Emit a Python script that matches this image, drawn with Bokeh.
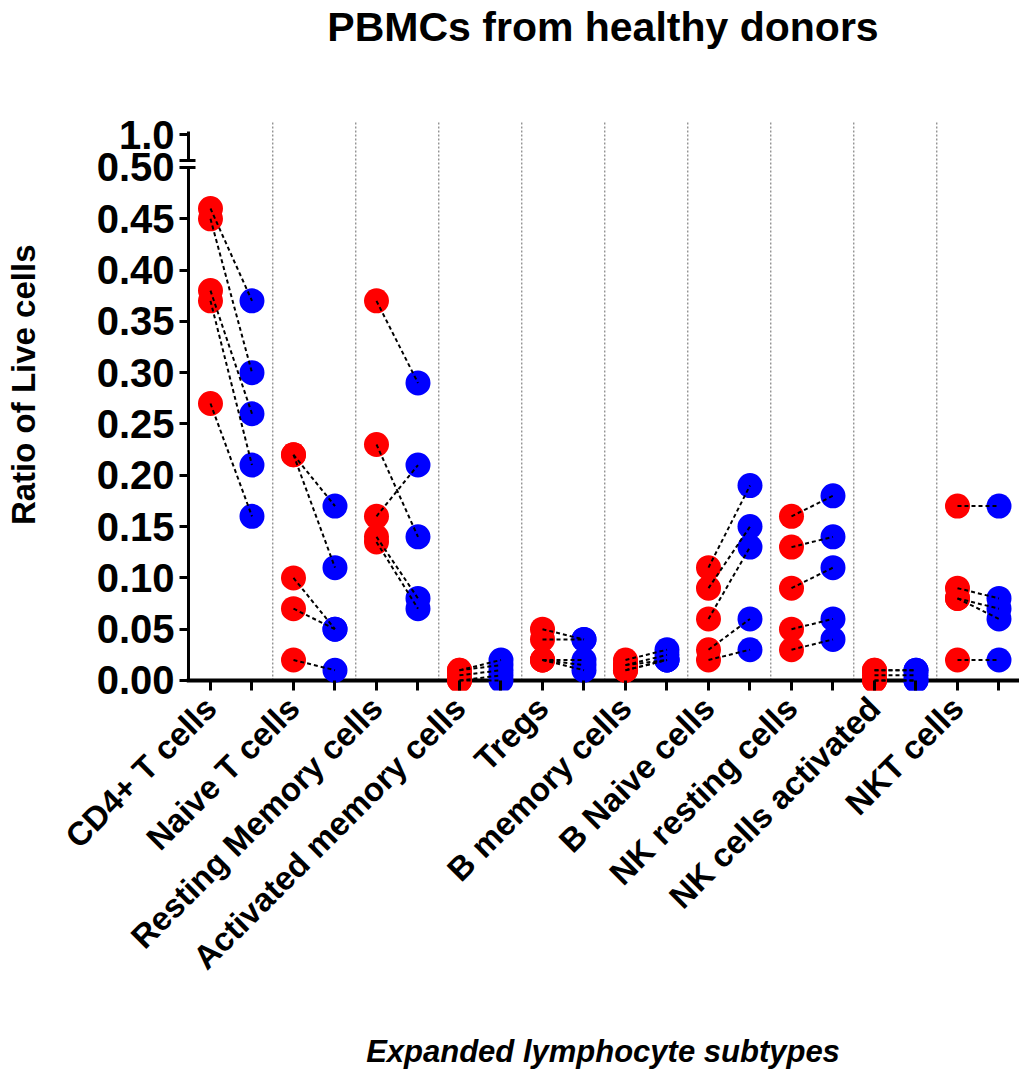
import math
from bokeh.plotting import figure
from bokeh.models import FixedTicker, CustomJSTickFormatter, Range1d, LinearAxis, Title
from bokeh.embed import file_html
from bokeh.resources import INLINE

# ---------------- data ----------------
categories = ["CD4+ T cells", "Naive T cells", "Resting Memory cells",
              "Activated memory cells", "Tregs", "B memory cells",
              "B Naive cells", "NK resting cells", "NK cells activated",
              "NKT cells"]

# ratio of live cells, one value per donor (red = first condition)
red_values = [
    [0.46, 0.45, 0.38, 0.37, 0.27],
    [0.22, 0.22, 0.10, 0.07, 0.02],
    [0.37, 0.23, 0.16, 0.14, 0.135],
    [0.01, 0.005, 0.0, 0.0, 0.01],
    [0.05, 0.04, 0.02, 0.02, 0.02],
    [0.02, 0.015, 0.01, 0.01, 0.015],
    [0.11, 0.09, 0.06, 0.03, 0.02],
    [0.16, 0.13, 0.09, 0.05, 0.03],
    [0.01, 0.01, 0.0, 0.0, 0.005],
    [0.17, 0.09, 0.08, 0.08, 0.02],
]
# paired values (blue = second condition), same donor order
blue_values = [
    [0.37, 0.30, 0.26, 0.21, 0.16],
    [0.17, 0.11, 0.05, 0.05, 0.01],
    [0.29, 0.14, 0.21, 0.08, 0.07],
    [0.02, 0.01, 0.005, 0.0, 0.015],
    [0.04, 0.04, 0.02, 0.01, 0.015],
    [0.03, 0.025, 0.02, 0.02, 0.02],
    [0.19, 0.15, 0.13, 0.06, 0.03],
    [0.18, 0.14, 0.11, 0.06, 0.04],
    [0.01, 0.01, 0.0, 0.0, 0.005],
    [0.17, 0.08, 0.07, 0.06, 0.02],
]

y_tick_values = [0.0, 0.05, 0.10, 0.15, 0.20, 0.25, 0.30, 0.35, 0.40, 0.45, 0.50]
top_tick_label = "1.0"
title_text = "PBMCs from healthy donors"
x_title = "Expanded lymphocyte subtypes"
y_title = "Ratio of Live cells"

# ---------------- axis break geometry ----------------
BREAK_LOW = 0.5          # lower segment ends here
BREAK_HIGH = 0.5068      # upper segment starts here
TOP_TICK = 0.532         # position of the "1.0" tick
TOP_LINE = 0.535         # end of the upper axis segment

FONT = "Liberation Sans"
RED = "#FF0000"
BLUE = "#0000FF"
INK = "black"

n = len(categories)
rx, ry, bx, by = [], [], [], []
sx0, sy0, sx1, sy1 = [], [], [], []
for c in range(n):
    for r, b in zip(red_values[c], blue_values[c]):
        rx.append(2 * c); ry.append(r)
        bx.append(2 * c + 1); by.append(b)
        sx0.append(2 * c); sy0.append(r)
        sx1.append(2 * c + 1); sy1.append(b)

x_start, x_end = -0.578, 2 * n - 1 + 0.494
y_start, y_end = -0.00975, 0.5458

p = figure(width=1019, height=1075,
           x_range=Range1d(x_start, x_end), y_range=Range1d(y_start, y_end),
           output_backend="svg", toolbar_location=None,
           min_border_left=186, min_border_right=0,
           min_border_top=120, min_border_bottom=385)
p.outline_line_color = None
p.background_fill_color = "white"
p.border_fill_color = "white"
p.xgrid.visible = False
p.ygrid.visible = False

xa = p.below[0]
ya = p.left[0]

# title
p.title.text = title_text
p.title.text_font = FONT
p.title.text_font_size = "41px"
p.title.text_font_style = "bold"
p.title.text_color = INK
p.title.align = "center"
p.title.standoff = 0

# vertical dotted separators between categories
sep_x = [2 * c + 1.5 for c in range(n - 1)]
p.segment(x0=sep_x, y0=[0] * len(sep_x), x1=sep_x, y1=[y_end] * len(sep_x),
          line_color="#8a8a8a", line_width=1.3, line_dash="2 2")

# hand-drawn axis lines (y axis broken)
y_axis_x = -0.530
p.segment(x0=[x_start], y0=[0], x1=[x_end], y1=[0], line_color=INK, line_width=4)
p.segment(x0=[y_axis_x, y_axis_x], y0=[0, BREAK_HIGH], x1=[y_axis_x, y_axis_x],
          y1=[BREAK_LOW, TOP_LINE], line_color=INK, line_width=3)
bar_end = -0.361
p.segment(x0=[x_start, x_start], y0=[BREAK_LOW, BREAK_HIGH], x1=[bar_end, bar_end],
          y1=[BREAK_LOW, BREAK_HIGH], line_color=INK, line_width=3)

# points
p.scatter(x=rx, y=ry, size=25, fill_color=RED, line_color=None)
p.scatter(x=bx, y=by, size=25, fill_color=BLUE, line_color=None)

# pairing lines
p.segment(x0=sx0, y0=sy0, x1=sx1, y1=sy1, line_color=INK,
          line_width=2, line_dash="4 3")

# ---------------- x axis ----------------
xa.ticker = FixedTicker(ticks=list(range(2 * n)), minor_ticks=[])
xa.formatter = CustomJSTickFormatter(args=dict(names=categories), code="""
    const i = Math.round(tick);
    return (i % 2 == 0) ? names[i / 2] : "";
""")
xa.axis_line_color = None
xa.major_tick_in = 10
xa.major_tick_out = 0
xa.major_tick_line_width = 3
xa.major_tick_line_color = INK
xa.minor_tick_line_color = None
xa.major_label_orientation = math.pi / 4
xa.major_label_text_font = FONT
xa.major_label_text_font_size = "33px"
xa.major_label_text_font_style = "bold"
xa.major_label_text_color = INK
xa.major_label_standoff = 12
xa.axis_label = x_title
xa.axis_label_text_font = FONT
xa.axis_label_text_font_size = "31px"
xa.axis_label_text_font_style = "bold italic"
xa.axis_label_text_color = INK
xa.axis_label_standoff = 42

# ---------------- y axis ----------------
ya.ticker = FixedTicker(ticks=y_tick_values + [BREAK_HIGH, TOP_TICK], minor_ticks=[])
ya.formatter = CustomJSTickFormatter(
    args=dict(top=TOP_TICK, low=BREAK_LOW, top_label=top_tick_label), code="""
    if (tick > top - 0.001) return top_label;
    if (tick > low + 0.001) return "";
    return tick.toFixed(2);
""")
ya.axis_line_color = None
ya.major_tick_in = 2
ya.major_tick_out = 7
ya.major_tick_line_width = 3
ya.major_tick_line_color = INK
ya.minor_tick_line_color = None
ya.major_label_text_font = FONT
ya.major_label_text_font_size = "40px"
ya.major_label_text_font_style = "bold"
ya.major_label_text_color = INK
ya.major_label_standoff = 5


def spacer_axis(px, at):
    # an invisible axis whose only job is to take up `px` pixels of room
    return LinearAxis(ticker=FixedTicker(ticks=[at], minor_ticks=[]),
                      formatter=CustomJSTickFormatter(code="return '';"),
                      axis_line_color=None, major_tick_out=px, major_tick_in=0,
                      major_label_standoff=0, major_tick_line_color=None,
                      minor_tick_line_color=None, major_label_text_font_size="1px")


# spacer above the frame, so the title sits at the top of the page
p.add_layout(spacer_axis(71, 5), "above")

# y axis title: spacer + side title, shifted up like the reference
p.add_layout(spacer_axis(52, 0.25), "left")
p.add_layout(Title(text=y_title, text_font=FONT, text_font_size="33px",
                   text_font_style="bold", text_color=INK, align="right",
                   offset=124, standoff=0, vertical_align="bottom"), "left")

open("out.html", "w").write(file_html(p, INLINE))
